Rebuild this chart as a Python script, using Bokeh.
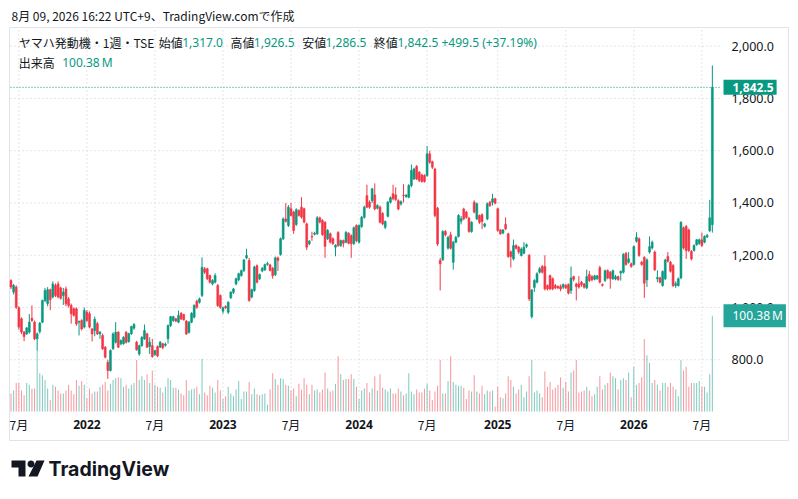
import math
import pandas as pd
from bokeh.plotting import figure
from bokeh.models import (ColumnDataSource, Range1d, Label, BoxAnnotation, PolyAnnotation)
from bokeh.embed import file_html
from bokeh.resources import INLINE

# ---------------- data (weekly candles, JPY; volume in millions) ----------------
FIRST_WEEK = "2021-06-14"

OPEN = [
    1103,1059,1078,999,957,906,899,906,959,944, 880,908,944,1027,1015,1068,1040,1084,1090,1075,
    1046,1071,1033,1008,995,995,944,950,925,982, 976,918,912,938,899,893,848,790,759,842,
    867,905,861,861,905,870,900,
    921,867,822,854,880,899,851,854,820,850, 848,861,856,880,931,950,957,944,978,973,
    948,905,944,963,1024,1020,1046,1148,1148,1122, 1090,1097,1084,1046,986,1004,982,1037,1058,1090,
    1106,1122,1141,1190,1180,1040,
    1065,1160,1110,1140,1144,1165,1163,1150,1126,1190, 1203,1263,1339,1314,1378,1365,1318,1371,1384,1378,
    1320,1244,1272,1280,1282,1343,1333,1326,1263,1282, 1263,1231,1287,1237,1256,1250,1284,1275,1244,1314,
    1250,1310,1345,1428,1403,1409,
    1431,1380,1384,1360,1307,1349,1403,1435,1431,1409, 1396,1430,1424,1422,1467,1492,1540,1518,1507,1505,
    1505,1588,1558,1530,1380,1180,1183,1291,1227,1278, 1173,1250,1272,1330,1377,1365,1342,1291,1403,1339,
    1352,1355,1311,1339,1403,
    1403,1416,1378,1297,1285,1318,1282,1213,1186,1237, 1231,1199,1208,1234,1199,965,1077,1097,1135,1157,
    1157,1084,1122,1110,1084,1080,1080,1078,1084,1088, 1065,1118,1090,1090,1097,1090,1075,1126,1118,1108,
    1110,1152,1088,1103,1141,1135,
    1110,1109,1118,1132,1135,1208,1173,1167,1165,1254, 1263,1173,1192,1106,1212,1228,1212,1110,1113,1084,
    1110,1195,1173,1161,1084,1084,1113,1305,1310,1297, 1214,1218,1240,1245,1259,1250,1270,1294,1317,
]
HIGH = [
    1108,1090,1085,1005,962,910,925,975,1008,950, 905,945,1030,1075,1078,1072,1100,1092,1100,1080,
    1075,1080,1040,1015,1000,1000,950,955,1000,990, 985,922,965,945,910,900,852,800,840,905,
    944,910,878,890,910,903,930,
    940,872,858,890,935,903,886,880,838,855, 872,865,866,935,968,968,960,988,982,976,
    952,948,982,1012,1030,1038,1192,1155,1152,1126, 1108,1131,1090,1050,1003,1008,1024,1062,1075,1114,
    1133,1145,1186,1225,1190,1072,
    1160,1165,1130,1155,1168,1175,1167,1155,1195,1195, 1268,1345,1400,1392,1400,1370,1380,1376,1422,1382,
    1325,1258,1290,1290,1350,1348,1338,1330,1300,1287, 1268,1242,1292,1260,1260,1292,1288,1280,1310,1318,
    1318,1350,1390,1470,1410,1458,
    1475,1395,1390,1365,1333,1408,1425,1470,1460,1414, 1410,1472,1434,1472,1547,1535,1545,1522,1512,1510,
    1618,1600,1562,1535,1385,1190,1295,1296,1274,1290, 1255,1274,1357,1350,1382,1370,1347,1330,1410,1402,
    1356,1360,1324,1402,1408,
    1435,1420,1382,1300,1300,1345,1286,1218,1260,1242, 1236,1230,1250,1245,1205,1070,1108,1135,1155,1162,
    1200,1088,1126,1115,1090,1085,1088,1092,1090,1092, 1157,1122,1095,1120,1102,1094,1145,1140,1124,1125,
    1125,1160,1092,1145,1146,1140,
    1145,1125,1122,1142,1208,1212,1212,1172,1238,1288, 1268,1178,1196,1188,1272,1256,1218,1142,1118,1142,
    1186,1212,1178,1166,1100,1115,1330,1310,1316,1302, 1220,1242,1262,1264,1287,1276,1282,1412,1926.5,
]
LOW = [
    1070,1050,995,915,898,871,895,900,945,875, 835,900,940,1020,1005,990,1035,1040,1035,1030,
    1010,1005,1000,938,965,930,893,912,920,945, 920,870,890,895,880,838,805,727,755,838,
    862,845,855,858,862,865,895,
    915,835,815,850,876,845,822,808,815,810, 845,840,850,862,925,945,944,940,952,950,
    895,900,940,958,995,1015,1040,1128,1105,1092, 1085,1092,1002,995,976,995,975,1033,1052,1085,
    1100,1118,1136,1185,1022,1035,
    1060,1092,1105,1135,1140,1160,1138,1110,1120,1140, 1198,1258,1325,1308,1348,1282,1312,1348,1340,1322,
    1220,1238,1255,1276,1278,1322,1274,1190,1258,1245, 1240,1196,1232,1232,1230,1246,1242,1190,1240,1250,
    1245,1305,1340,1380,1378,1400,
    1372,1375,1322,1315,1300,1345,1398,1410,1408,1372, 1390,1402,1420,1418,1460,1488,1488,1480,1478,1478,
    1500,1550,1530,1345,1235,1065,1178,1272,1222,1222, 1145,1246,1268,1318,1334,1340,1286,1286,1360,1334,
    1320,1300,1306,1334,1385,
    1390,1395,1290,1278,1280,1296,1190,1153,1180,1222, 1205,1195,1204,1228,1025,958,1060,1092,1130,1130,
    1065,1065,1066,1066,1070,1070,1062,1070,1070,1050, 1052,1100,1027,1072,1080,1072,1070,1098,1100,1104,
    1106,1092,1080,1098,1108,1072,
    1105,1104,1102,1103,1130,1160,1168,1152,1160,1248, 1194,1160,1037,1078,1206,1222,1140,1097,1092,1080,
    1105,1172,1134,1078,1075,1080,1108,1222,1186,1212, 1180,1214,1236,1240,1232,1246,1266,1288,1286.5,
]
CLOSE = [
    1078,1084,1001,925,906,889,922,944,950,880, 899,940,1027,1065,1068,1030,1090,1046,1040,1035,
    1059,1014,1008,976,970,937,947,918,989,950, 925,899,955,899,905,842,810,759,835,899,
    905,848,874,886,867,900,927,
    935,838,854,886,912,848,867,812,835,815, 867,846,860,931,965,965,948,969,956,953,
    899,944,978,1008,1001,1033,1154,1135,1110,1097, 1103,1122,1008,1001,999,999,1020,1059,1071,1110,
    1129,1141,1182,1199,1027,1068,
    1155,1097,1126,1150,1164,1168,1142,1122,1190,1180, 1263,1339,1330,1384,1352,1295,1374,1352,1346,1327,
    1231,1254,1270,1284,1343,1327,1279,1234,1295,1250, 1244,1238,1237,1256,1246,1288,1246,1244,1305,1256,
    1314,1345,1384,1384,1384,1454,
    1377,1390,1326,1320,1329,1403,1420,1416,1413,1377, 1405,1428,1430,1467,1524,1530,1492,1486,1482,1482,
    1588,1556,1537,1352,1243,1167,1291,1278,1269,1227, 1250,1269,1352,1340,1339,1345,1291,1326,1365,1397,
    1326,1329,1320,1397,1390,
    1416,1399,1295,1282,1297,1301,1195,1195,1237,1227, 1212,1224,1231,1240,1033,1067,1103,1129,1148,1135,
    1071,1071,1071,1071,1075,1075,1071,1088,1075,1055, 1113,1108,1080,1078,1088,1078,1118,1103,1106,1121,
    1121,1097,1085,1141,1113,1110,
    1141,1118,1107,1138,1203,1165,1186,1157,1233,1269, 1199,1165,1093,1182,1233,1250,1144,1115,1097,1138,
    1182,1177,1139,1084,1091,1110,1326,1228,1218,1218, 1186,1237,1259,1259,1237,1272,1276,1343,1842.5,
]
VOLUME = [
    19,22,30,30,22,17,30,28,24,24, 64,40,38,33,24,12,28,26,22,19, 19,22,28,22,18,33,27,32,28,14,
    24,19,21,21,26,28,31,22,29,33, 35,36,35,26,28,24,28,
    30,54,33,37,33,39,30,43,28,26, 25,20,26,35,33,25,25,23,19,17, 33,22,23,24,26,18,55,20,17,27,
    25,20,33,22,13,16,26,19,16,23, 32,13,21,21,31,18,
    24,18,17,18,19,7,23,40,34,28, 35,34,28,27,22,24,16,29,23,35, 28,18,28,22,23,20,23,41,24,21,
    22,29,58,39,33,34,34,39,34,26, 13,22,24,30,20,24,
    37,22,39,25,23,21,24,19,19,24, 21,17,19,40,21,18,23,20,20,24, 29,22,12,21,27,54,19,19,32,58,
    31,28,27,27,25,13,22,21,38,21, 19,27,18,22,21,
    22,5,26,15,14,19,37,33,26,19, 23,28,15,21,37,54,20,22,19,15, 42,26,31,23,25,28,36,25,31,21,
    41,43,54,20,21,22,26,22,16,18, 26,37,23,28,30,41,
    37,35,23,33,35,33,41,15,47,28, 30,36,76,59,51,30,33,28,22,30, 30,26,30,26,23,16,54,43,47,26,
    30,30,30,32,26,26,20,39,100.38,
]
PRICE_TICKS = [800, 1000, 1200, 1400, 1600, 1800, 2000]
HEADER = "8月 09, 2026 16:22 UTC+9、TradingView.comで作成"
SYMBOL = "ヤマハ発動機・1週・TSE"

n = len(CLOSE)
assert len(OPEN) == len(HIGH) == len(LOW) == len(VOLUME) == n, (len(OPEN), len(HIGH), len(LOW), n, len(VOLUME))

# ---------------- styling / layout constants ----------------
UP, DOWN, INK, GRID = "#089981", "#f23645", "#131722", "#c9ccd4"
JP, LAT = "Noto Sans CJK JP", "Noto Sans"
W, H = 798, 499
# chart pane extent expressed in data units (index / price)
PANE_LEFT, PANE_RIGHT = -0.19, 271.1
PANE_BOTTOM, PANE_TOP = 602, 2067.7

dates = pd.date_range(FIRST_WEEK, periods=n, freq="7D")
cols = [UP if c >= o else DOWN for o, c in zip(OPEN, CLOSE)]
src = ColumnDataSource(dict(
    x=list(range(n)), h=HIGH, l=LOW,
    top=[max(a, b) for a, b in zip(OPEN, CLOSE)],
    bot=[min(a, b) for a, b in zip(OPEN, CLOSE)],
    v=VOLUME, col=cols))

year_ticks, month_ticks = [], []
for i in range(1, n):
    if dates[i].month != dates[i - 1].month:
        if dates[i].month == 1:
            year_ticks.append(i)
        elif dates[i].month == 7:
            month_ticks.append(i)
grid_x = sorted(year_ticks + month_ticks)

p = figure(width=W, height=H, x_range=Range1d(-4.012, 300.92), y_range=Range1d(265.2, 2174.9),
           tools="", toolbar_location=None, output_backend="svg",
           x_axis_location=None, y_axis_location=None, min_border=0)
p.extra_y_ranges = {"vol": Range1d(-92.3, 431.1)}
p.outline_line_color = None
p.grid.visible = False
p.background_fill_color = "white"
p.border_fill_color = "white"

# panel frame
p.add_layout(BoxAnnotation(left=9, right=788, top=H - 27, bottom=H - 440, left_units="screen",
                           right_units="screen", top_units="screen", bottom_units="screen",
                           fill_color=None, line_color="#e0e3eb", line_alpha=1, line_width=1,
                           level="underlay"))

# dotted grid inside the chart pane
p.segment(x0=grid_x, y0=[PANE_BOTTOM] * len(grid_x), x1=grid_x, y1=[PANE_TOP] * len(grid_x),
          line_color=GRID, line_dash="1 3", line_width=1)
p.segment(x0=[PANE_LEFT] * len(PRICE_TICKS), y0=PRICE_TICKS, x1=[PANE_RIGHT] * len(PRICE_TICKS),
          y1=PRICE_TICKS, line_color=GRID, line_dash="1 3", line_width=1)

# volume, wicks, bodies
p.vbar(x="x", width=0.4, top="v", bottom=0, y_range_name="vol", source=src,
       fill_color="col", fill_alpha=0.5, line_color=None)
p.segment(x0="x", y0="h", x1="x", y1="l", source=src, line_color="col", line_width=1)
p.vbar(x="x", width=0.72, top="top", bottom="bot", source=src,
       fill_color="col", line_color="col", line_width=0.6)

# last price dotted line
p.segment(x0=[PANE_LEFT], y0=[CLOSE[-1]], x1=[PANE_RIGHT], y1=[CLOSE[-1]],
          line_color=UP, line_dash="1 2", line_width=1)


def lab(x, y, text, color=INK, font=JP, size="12px", style="normal", align="left",
        xu="screen", yu="screen", **kw):
    p.add_layout(Label(x=x, y=y, x_units=xu, y_units=yu, text=text, text_color=color,
                       text_font=font, text_font_size=size, text_font_style=style,
                       text_baseline="middle", text_align=align, **kw))


# price scale labels
for t in PRICE_TICKS:
    lab(731, t, f"{t:,.1f}", INK, LAT, "12.5px", yu="data")

# time scale labels
for t in year_ticks:
    lab(t, H - 424, str(dates[t].year), INK, LAT, "12px", "bold", "center", xu="data")
for t in month_ticks:
    lab(t, H - 424, f"{dates[t].month}月", INK, JP, "12px", "normal", "center", xu="data")

# header
lab(11, H - 15, HEADER, size="12px")

# legend rows
prev_close = CLOSE[-2]
chg = CLOSE[-1] - prev_close
pct = chg / prev_close * 100
row1 = H - 41.5
lab(18.3, row1, SYMBOL)
lab(158.3, row1, "始値")
lab(181.7, row1, f"{OPEN[-1]:,.1f}", UP, LAT)
lab(230, row1, "高値")
lab(253.3, row1, f"{HIGH[-1]:,.1f}", UP, LAT)
lab(301.7, row1, "安値")
lab(325, row1, f"{LOW[-1]:,.1f}", UP, LAT)
lab(373.3, row1, "終値")
lab(397, row1, f"{CLOSE[-1]:,.1f}", UP, LAT)
lab(441, row1, f"{chg:+,.1f} ({pct:+.2f}%)", UP, LAT)
row2 = H - 61.5
lab(18.3, row2, "出来高")
lab(61.7, row2, f"{VOLUME[-1]:.2f}\u202fM", UP, LAT)

# price-scale badges
p.add_layout(Label(x=723, y=CLOSE[-1], x_units="screen", y_units="data", text=f"{CLOSE[-1]:,.1f}",
                   text_color="white", text_font=LAT, text_font_size="12px", text_font_style="bold",
                   text_baseline="middle", text_align="left", background_fill_color=UP,
                   padding=dict(left=9, right=3, top=3, bottom=3)))
p.add_layout(Label(x=723, y=VOLUME[-1], x_units="screen", y_units="data", y_range_name="vol",
                   text=f"{VOLUME[-1]:.2f}\u202fM", text_color="white", text_font=LAT,
                   text_font_size="12px", text_baseline="middle", text_align="left",
                   background_fill_color="#26a69a", padding=dict(left=9, right=3, top=3, bottom=3)))

# TradingView logo
p.add_layout(PolyAnnotation(xs=[11, 25, 25, 18, 18, 11], ys=[H - 460, H - 460, H - 476, H - 476, H - 467, H - 467],
                            xs_units="screen", ys_units="screen", fill_color=INK, fill_alpha=1,
                            line_color=None))
p.add_layout(PolyAnnotation(xs=[36, 44, 37, 28], ys=[H - 460, H - 460, H - 476, H - 476],
                            xs_units="screen", ys_units="screen", fill_color=INK, fill_alpha=1,
                            line_color=None))
cx, cy, r = 30.5, H - 463.5, 3.5
p.add_layout(PolyAnnotation(xs=[cx + r * math.cos(k * math.pi / 8) for k in range(16)],
                            ys=[cy + r * math.sin(k * math.pi / 8) for k in range(16)],
                            xs_units="screen", ys_units="screen", fill_color=INK, fill_alpha=1,
                            line_color=None))
lab(48, H - 468, "TradingView", INK, "Inter", "19.5px", "bold")

open("out.html", "w").write(file_html(p, INLINE))
